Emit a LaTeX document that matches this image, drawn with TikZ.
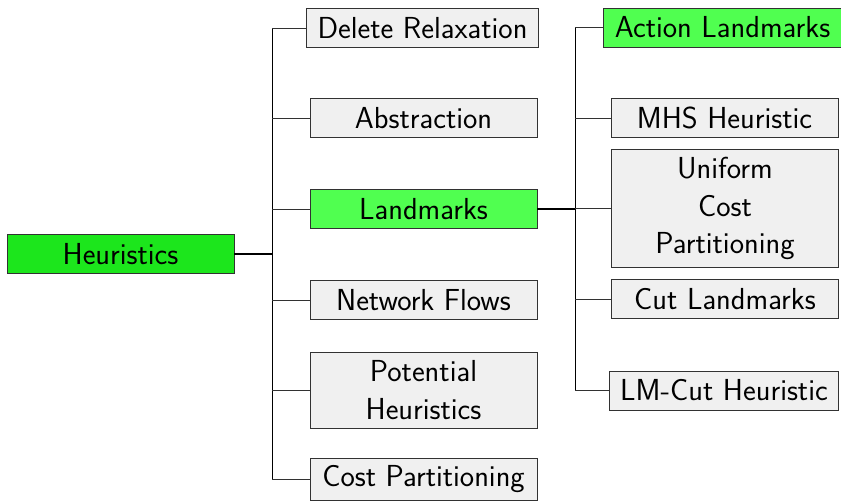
\documentclass[tikz,border=0pt]{standalone}
\usepackage{fontspec}
\setmainfont{Latin Modern Sans}
\definecolor{rootgreen}{RGB}{28,230,28}
\definecolor{keygreen}{RGB}{80,255,80}
\definecolor{boxgray}{RGB}{240,240,240}
\definecolor{edgegray}{RGB}{50,50,50}
\begin{document}
\begin{tikzpicture}[x=1pt,y=1pt,
  every node/.style={font=\fontsize{30.4}{37.5}\selectfont},
  item/.style={draw=edgegray, line width=0.9pt, fill=boxgray, align=center,
    minimum width=227pt, minimum height=39pt, inner xsep=11pt, inner ysep=0pt},
  root/.style={item, fill=rootgreen},
  key/.style={item, fill=keygreen},
  trunk/.style={line width=1.3pt, black},
  twig/.style={line width=0.9pt, edgegray}]
\useasboundingbox (0,0) rectangle (841,-503);

% root
\node[root] (heur) at (120.5,-254) {Heuristics};

% first level
\node[item] (dr)  at (422.5,-28)  {Delete Relaxation};
\node[item] (abs) at (423.5,-118) {Abstraction};
\node[key]  (lm)  at (423.5,-209) {Landmarks};
\node[item] (nf)  at (423.5,-300) {Network Flows};
\node[item, minimum height=76pt] (ph) at (423.5,-390) {Potential\\Heuristics};
\node[item, minimum height=42pt] (cp) at (423.5,-479) {Cost Partitioning};

% landmark family
\node[key]  (al)  at (722.5,-27.5)  {Action Landmarks};
\node[item] (mhs) at (724.5,-118) {MHS Heuristic};
\node[item, minimum height=118pt] (ucp) at (725,-208.5) {Uniform\\Cost\\Partitioning};
\node[item] (cl)  at (725,-299) {Cut Landmarks};
\node[item] (lmc) at (724,-390.5) {LM-Cut Heuristic};

% connectors from the root
\draw[trunk] (heur.east) -- ++(38,0) coordinate (t1);
\draw[trunk] (t1 |- dr.west) -- (t1 |- cp.west);
\foreach \n in {dr,abs,lm,nf,ph,cp}
  \draw[twig] (t1 |- \n.west) -- (\n.west);

% connectors from Landmarks
\draw[trunk] (lm.east) -- ++(38,0) coordinate (t2);
\draw[trunk] (t2 |- al.west) -- (t2 |- lmc.west);
\foreach \n in {al,mhs,ucp,cl,lmc}
  \draw[twig] (t2 |- \n.west) -- (\n.west);
\end{tikzpicture}
\end{document}
